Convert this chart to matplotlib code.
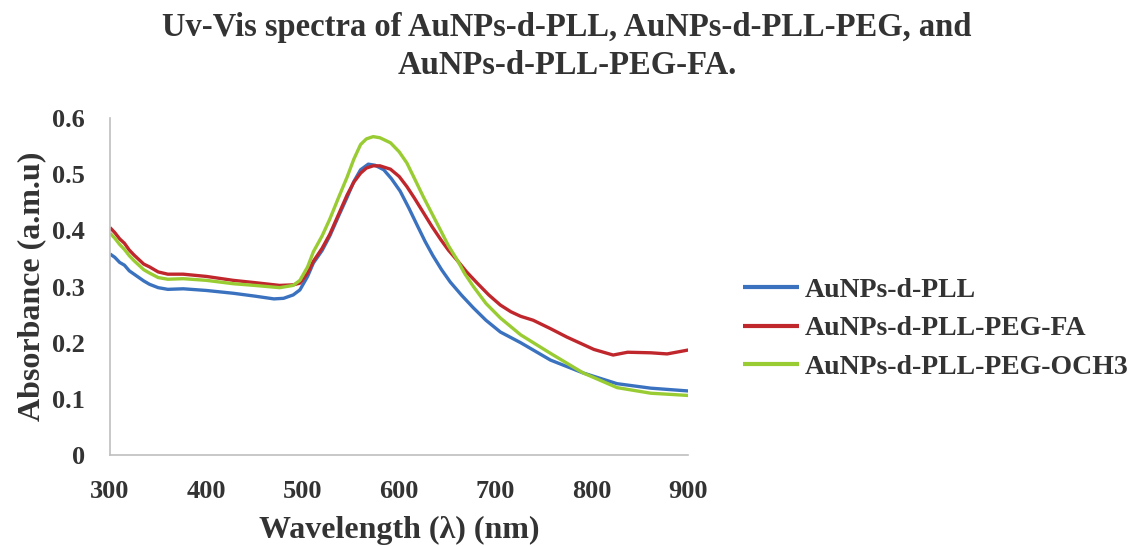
import matplotlib
matplotlib.use("Agg")
import matplotlib.pyplot as plt

# wavelength (nm) / absorbance
wl_pll = [300, 305, 310, 315, 320, 325, 330, 335, 341, 350, 360, 376, 400, 428, 450, 470, 480,
          490, 497, 505, 511, 520, 528, 537, 546, 553, 560, 568, 575, 584, 592, 601, 610, 619,
          627, 635, 644, 653, 665, 677, 690, 705, 726, 757, 791, 826, 861, 900]
abs_pll = [0.358, 0.352, 0.343, 0.338, 0.328, 0.322, 0.316, 0.310, 0.304, 0.298, 0.295, 0.296,
           0.293, 0.288, 0.283, 0.278, 0.279, 0.285, 0.294, 0.318, 0.342, 0.364, 0.390, 0.425,
           0.459, 0.487, 0.508, 0.518, 0.516, 0.508, 0.492, 0.470, 0.440, 0.408, 0.380, 0.355,
           0.330, 0.308, 0.284, 0.262, 0.240, 0.219, 0.200, 0.169, 0.146, 0.127, 0.119, 0.114]

wl_fa = [300, 305, 310, 315, 320, 325, 330, 335, 341, 350, 360, 376, 400, 428, 450, 476, 490,
         497, 505, 511, 520, 528, 537, 546, 553, 560, 566, 573, 580, 591, 600, 608, 616, 625,
         634, 643, 651, 660, 670, 681, 693, 705, 716, 726, 739, 757, 774, 802, 822, 837, 861,
         878, 900]
abs_fa = [0.405, 0.396, 0.385, 0.377, 0.365, 0.356, 0.348, 0.340, 0.335, 0.326, 0.322, 0.322,
          0.318, 0.311, 0.307, 0.302, 0.303, 0.306, 0.324, 0.345, 0.368, 0.393, 0.428, 0.463,
          0.486, 0.502, 0.511, 0.515, 0.515, 0.509, 0.496, 0.478, 0.457, 0.432, 0.407, 0.384,
          0.365, 0.347, 0.326, 0.306, 0.285, 0.267, 0.255, 0.247, 0.240, 0.225, 0.210, 0.188,
          0.178, 0.183, 0.182, 0.180, 0.187]

wl_och3 = [300, 305, 310, 315, 320, 325, 330, 335, 341, 350, 360, 376, 400, 428, 450, 476,
           490, 497, 505, 511, 520, 528, 537, 546, 553, 560, 566, 573, 580, 591, 600, 608, 616,
           625, 634, 643, 651, 660, 668, 677, 690, 705, 726, 757, 791, 826, 861, 900]
abs_och3 = [0.395, 0.386, 0.375, 0.366, 0.355, 0.346, 0.338, 0.330, 0.324, 0.316, 0.313, 0.314,
            0.311, 0.305, 0.302, 0.298, 0.302, 0.311, 0.335, 0.362, 0.390, 0.420, 0.458, 0.495,
            0.527, 0.553, 0.563, 0.567, 0.565, 0.556, 0.540, 0.520, 0.492, 0.460, 0.430, 0.400,
            0.373, 0.348, 0.323, 0.300, 0.270, 0.244, 0.214, 0.181, 0.146, 0.120, 0.110, 0.106]

series = [
    ("AuNPs-d-PLL", wl_pll, abs_pll, "#3a72c0"),
    ("AuNPs-d-PLL-PEG-FA", wl_fa, abs_fa, "#c0272d"),
    ("AuNPs-d-PLL-PEG-OCH3", wl_och3, abs_och3, "#99cc33"),
]

x_ticks = [300, 400, 500, 600, 700, 800, 900]
y_ticks = [0, 0.1, 0.2, 0.3, 0.4, 0.5, 0.6]
y_tick_labels = ["0", "0.1", "0.2", "0.3", "0.4", "0.5", "0.6"]

plt.rcParams["font.family"] = ["Liberation Serif", "DejaVu Serif"]
plt.rcParams["font.weight"] = "bold"

fig = plt.figure(figsize=(11.34, 5.46), dpi=100)
ax = fig.add_axes([0.097, 0.1667, 0.510, 0.617])

for name, wl, ab, col in series:
    ax.plot(wl, ab, color=col, lw=2.4, label=name, solid_capstyle="butt")

ax.set_xlim(300, 900)
ax.set_ylim(0, 0.6)
ax.set_xticks(x_ticks)
ax.set_yticks(y_ticks)
ax.set_yticklabels(y_tick_labels)
ax.tick_params(axis="both", length=0, labelsize=19, colors="#333333")
ax.tick_params(axis="y", pad=18)
ax.tick_params(axis="x", pad=18)

for side in ["top", "right"]:
    ax.spines[side].set_visible(False)
for side in ["left", "bottom"]:
    ax.spines[side].set_color("#bfbfbf")
    ax.spines[side].set_linewidth(1.2)

ax.set_xlabel("Wavelength (λ) (nm)", fontsize=23, fontweight="bold", color="#333333", labelpad=9)
ax.set_ylabel("Absorbance (a.m.u)", fontsize=23, fontweight="bold", color="#333333", labelpad=4)

fig.suptitle("Uv-Vis spectra of AuNPs-d-PLL, AuNPs-d-PLL-PEG, and\nAuNPs-d-PLL-PEG-FA.",
             x=0.5, y=0.978, fontsize=23.5, fontweight="bold", color="#333333", linespacing=1.28)

leg = ax.legend(loc="center left", bbox_to_anchor=(1.095, 0.375), frameon=False,
                fontsize=20, handlelength=2.0, handletextpad=0.2, labelspacing=0.46,
                borderaxespad=0, borderpad=0)
for t in leg.get_texts():
    t.set_color("#333333")
    t.set_fontweight("bold")
for h in leg.get_lines():
    h.set_linewidth(3)

fig.savefig("out.png", dpi=100)
